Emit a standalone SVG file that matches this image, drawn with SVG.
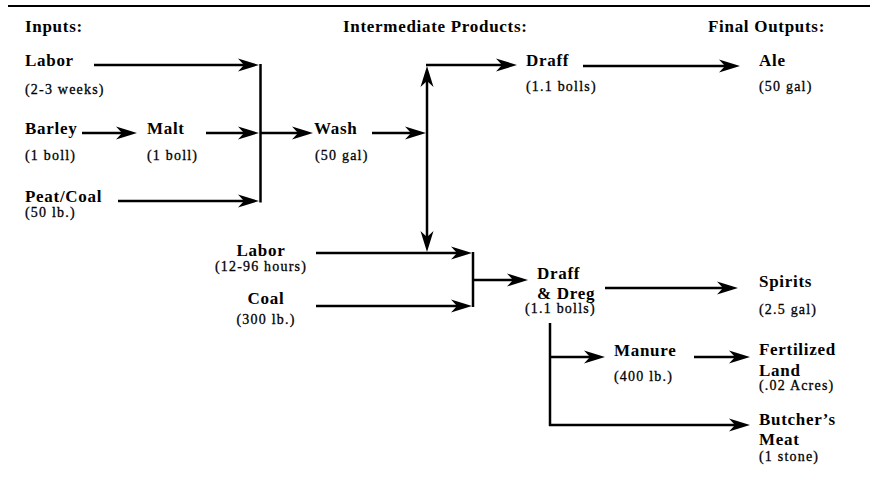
<svg xmlns="http://www.w3.org/2000/svg" width="870" height="488" viewBox="0 0 870 488">
<style>
text{font-family:"Liberation Serif","Times New Roman",serif;fill:#000}
.h,.m{font-size:17px;font-weight:bold;letter-spacing:0.7px}
.s{font-size:14px;letter-spacing:1.2px;stroke:#000;stroke-width:0.3}
.c{text-anchor:middle}
.ln{fill:none;stroke:#000;stroke-width:2.5}
.ar{marker-end:url(#arr)}
</style>
<defs>
<marker id="arr" markerUnits="userSpaceOnUse" orient="auto" markerWidth="30" markerHeight="20" refX="0" refY="0" overflow="visible">
<path d="M12,0 L-9,-6.5 L-3,0 L-9,6.5 Z" fill="#000"/>
</marker>
</defs>
<rect width="870" height="488" fill="#fff"/>
<line x1="8" y1="6" x2="870" y2="6" stroke="#000" stroke-width="2"/>
<g id="headers">
<text class="h" x="25" y="32">Inputs:</text>
<text class="h" x="343" y="32">Intermediate Products:</text>
<text class="h" x="708" y="32">Final Outputs:</text>
</g>
<g id="labor1"><text class="m" x="25" y="66">Labor</text><text class="s" x="25" y="94">(2-3 weeks)</text></g>
<g id="barley"><text class="m" x="25" y="134">Barley</text><text class="s" x="25" y="160">(1 boll)</text></g>
<g id="malt"><text class="m" x="147" y="134">Malt</text><text class="s" x="147" y="160">(1 boll)</text></g>
<g id="peatcoal"><text class="m" x="25" y="202">Peat/Coal</text><text class="s" x="25" y="217">(50 lb.)</text></g>
<g id="wash"><text class="m" x="314" y="134">Wash</text><text class="s" x="315" y="160">(50 gal)</text></g>
<g id="draff"><text class="m" x="526" y="66">Draff</text><text class="s" x="526" y="91">(1.1 bolls)</text></g>
<g id="ale"><text class="m" x="759" y="66">Ale</text><text class="s" x="759" y="91">(50 gal)</text></g>
<g id="labor2"><text class="m c" x="261" y="256">Labor</text><text class="s c" x="261" y="271">(12-96 hours)</text></g>
<g id="coal"><text class="m c" x="266" y="304">Coal</text><text class="s c" x="266" y="324">(300 lb.)</text></g>
<g id="draffdreg"><text class="m" x="537" y="279">Draff</text><text class="m" x="537" y="299">&amp; Dreg</text><text class="s" x="525" y="313">(1.1 bolls)</text></g>
<g id="spirits"><text class="m" x="759" y="287">Spirits</text><text class="s" x="759" y="314">(2.5 gal)</text></g>
<g id="manure"><text class="m" x="614" y="356">Manure</text><text class="s" x="614" y="381">(400 lb.)</text></g>
<g id="fertilized"><text class="m" x="759" y="355">Fertilized</text><text class="m" x="759" y="376">Land</text><text class="s" x="759" y="390">(.02 Acres)</text></g>
<g id="butcher"><text class="m" x="759" y="425">Butcher’s</text><text class="m" x="759" y="445">Meat</text><text class="s" x="759" y="461">(1 stone)</text></g>
<g id="connectors">
<path class="ln ar" d="M94,65 H247"/>
<path class="ln" d="M260.5,64 V202.5"/>
<path class="ln ar" d="M82,133 H125"/>
<path class="ln ar" d="M206,133 H247"/>
<path class="ln ar" d="M260,133 H301"/>
<path class="ln ar" d="M118,201 H247"/>
<path class="ln ar" d="M372,133 H414"/>
<path class="ln ar" d="M427,133 V78"/>
<path class="ln ar" d="M427,133 V240"/>
<path class="ln ar" d="M426,65 H505"/>
<path class="ln ar" d="M583,66 H728"/>
<path class="ln ar" d="M316,253 H460"/>
<path class="ln ar" d="M316,306 H460"/>
<path class="ln" d="M473,252 V307"/>
<path class="ln ar" d="M473,280 H516"/>
<path class="ln ar" d="M605,288 H726"/>
<path class="ln" d="M550,323 V426"/>
<path class="ln ar" d="M550,357 H593"/>
<path class="ln ar" d="M694,357 H738"/>
<path class="ln ar" d="M549,425 H738"/>
</g>
</svg>
